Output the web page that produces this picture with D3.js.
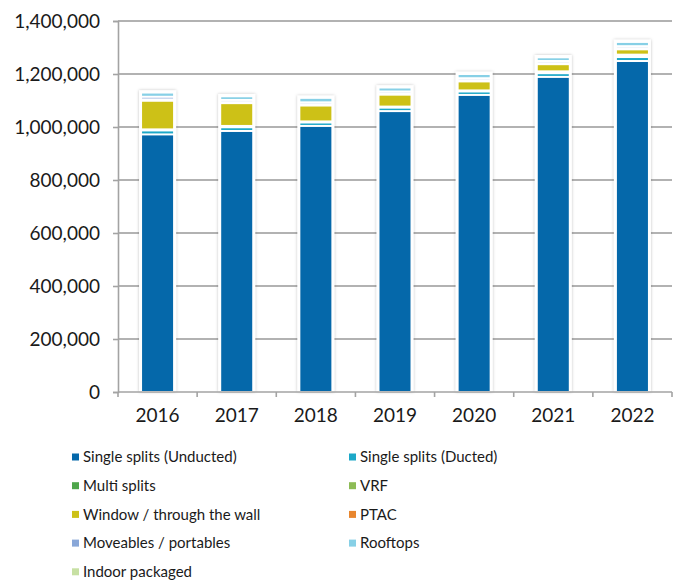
<!DOCTYPE html>
<html>
<head>
<meta charset="utf-8">
<script src="https://cdn.jsdelivr.net/npm/d3@7"></script>
<style>
  body { margin: 0; background: #fff; }
  svg { display: block; }
  text { font-family: Lato, "Open Sans", sans-serif; fill: #1a1a1a; }
</style>
</head>
<body>
<svg id="chart" width="678" height="583"></svg>
<script>
// Data (units)
const years = ["2016", "2017", "2018", "2019", "2020", "2021", "2022"];
const seriesNames = [
  "Single splits (Unducted)", "Single splits (Ducted)", "Multi splits", "VRF",
  "Window / through the wall", "PTAC", "Moveables / portables", "Rooftops", "Indoor packaged"
];
const unducted   = [972000, 985000, 1004000, 1060000, 1121000, 1189000, 1249000];
const ducted     = [15000, 14000, 13000, 13000, 13000, 14000, 15000];
const multiSplit = [2000, 3000, 2000, 2000, 2000, 4000, 5000];
const vrf        = [2000, 2000, 2000, 2000, 2000, 3000, 4000];
const windowWall = [108000, 86000, 60000, 45000, 34000, 27000, 20000];
const ptac       = [5000, 4000, 4000, 4000, 4000, 4000, 4000];
const moveables  = [10000, 8000, 8000, 8000, 8000, 8000, 8000];
const rooftops   = [16000, 14000, 17000, 15000, 16000, 14000, 16000];
const indoorPkg  = [1000, 1000, 1000, 1000, 1000, 1000, 1000];
const yTicks = [0, 200000, 400000, 600000, 800000, 1000000, 1200000, 1400000];

const palette = ["#0568aa", "#1ca8c8", "#4ea64b", "#8dbb55", "#cdc117",
                 "#e8862e", "#89a7d8", "#87d0e6", "#c7e0a3"];

const seriesValues = [unducted, ducted, multiSplit, vrf, windowWall, ptac, moveables, rooftops, indoorPkg];
const table = years.map((yr, i) => {
  const row = { year: yr };
  seriesNames.forEach((name, s) => { row[name] = seriesValues[s][i]; });
  return row;
});

const svg = d3.select("#chart");

const x = d3.scaleBand()
  .domain(years)
  .range([118, 672])
  .paddingInner(0.608)
  .paddingOuter(0.304);

const y = d3.scaleLinear()
  .domain([0, 1400000])
  .range([392, 21]);

const AXIS = "#a3a3a3";

// shadow for bar outline
const defs = svg.append("defs");
const f = defs.append("filter").attr("id", "shadow")
  .attr("x", "-30%").attr("y", "-10%").attr("width", "160%").attr("height", "120%");
f.append("feDropShadow")
  .attr("dx", 0).attr("dy", 0).attr("stdDeviation", 1.6)
  .attr("flood-color", "#000").attr("flood-opacity", 0.25);

// gridlines
svg.append("g")
  .selectAll("line")
  .data(yTicks.filter(d => d > 0))
  .join("line")
  .attr("x1", 118).attr("x2", 672)
  .attr("y1", d => y(d)).attr("y2", d => y(d))
  .attr("stroke", "#999")
  .attr("stroke-width", 1.6);

const stacked = d3.stack().keys(seriesNames)(table);
const totals = table.map(r => d3.sum(seriesNames, k => r[k]));

// white bar backing with soft shadow
svg.append("g")
  .selectAll("rect")
  .data(years)
  .join("rect")
  .attr("x", d => x(d) - 3)
  .attr("width", x.bandwidth() + 6)
  .attr("y", (d, i) => y(totals[i]) - 2)
  .attr("height", (d, i) => y(0) - y(totals[i]) + 2)
  .attr("fill", "#fff")
  .attr("filter", "url(#shadow)");

// stacked segments, separated by white gaps
const GAP = 2;
svg.append("g")
  .selectAll("g")
  .data(stacked)
  .join("g")
  .attr("fill", (d, i) => palette[i])
  .selectAll("rect")
  .data(d => d)
  .join("rect")
  .attr("x", d => x(d.data.year))
  .attr("width", x.bandwidth())
  .attr("y", d => y(d[1]) + GAP / 2)
  .attr("height", d => Math.max(0, y(d[0]) - y(d[1]) - GAP));

// y axis
const yAxis = svg.append("g")
  .attr("transform", "translate(118,0)")
  .call(d3.axisLeft(y).tickValues(yTicks).tickSize(5).tickPadding(13)
    .tickFormat(d3.format(",")));
yAxis.select(".domain").attr("stroke", AXIS).attr("stroke-width", 1.6);
yAxis.selectAll(".tick line").attr("stroke", AXIS).attr("stroke-width", 1.6);
yAxis.selectAll("text").attr("font-size", 19).attr("fill", "#1a1a1a")
  .style("font-family", "Lato, sans-serif");

// x axis
svg.append("line")
  .attr("x1", 118).attr("x2", 672)
  .attr("y1", y(0)).attr("y2", y(0))
  .attr("stroke", AXIS).attr("stroke-width", 1.6);

const step = x.step();
svg.append("g")
  .selectAll("line")
  .data(d3.range(years.length + 1))
  .join("line")
  .attr("x1", i => 118 + i * step).attr("x2", i => 118 + i * step)
  .attr("y1", y(0)).attr("y2", y(0) + 5)
  .attr("stroke", AXIS).attr("stroke-width", 1.6);

svg.append("g")
  .selectAll("text")
  .data(years)
  .join("text")
  .attr("x", d => x(d) + x.bandwidth() / 2)
  .attr("y", 422)
  .attr("text-anchor", "middle")
  .attr("font-size", 19)
  .text(d => d);

// legend
const legend = svg.append("g");
const item = legend.selectAll("g")
  .data(seriesNames)
  .join("g")
  .attr("transform", (d, i) => `translate(${i % 2 === 0 ? 72 : 349},${457 + Math.floor(i / 2) * 28.7})`);
item.append("rect")
  .attr("x", 0).attr("y", -3.5)
  .attr("width", 7).attr("height", 7)
  .attr("fill", (d, i) => palette[i]);
item.append("text")
  .attr("x", 11)
  .attr("dy", "0.35em")
  .attr("font-size", 15)
  .text(d => d);
</script>
</body>
</html>
